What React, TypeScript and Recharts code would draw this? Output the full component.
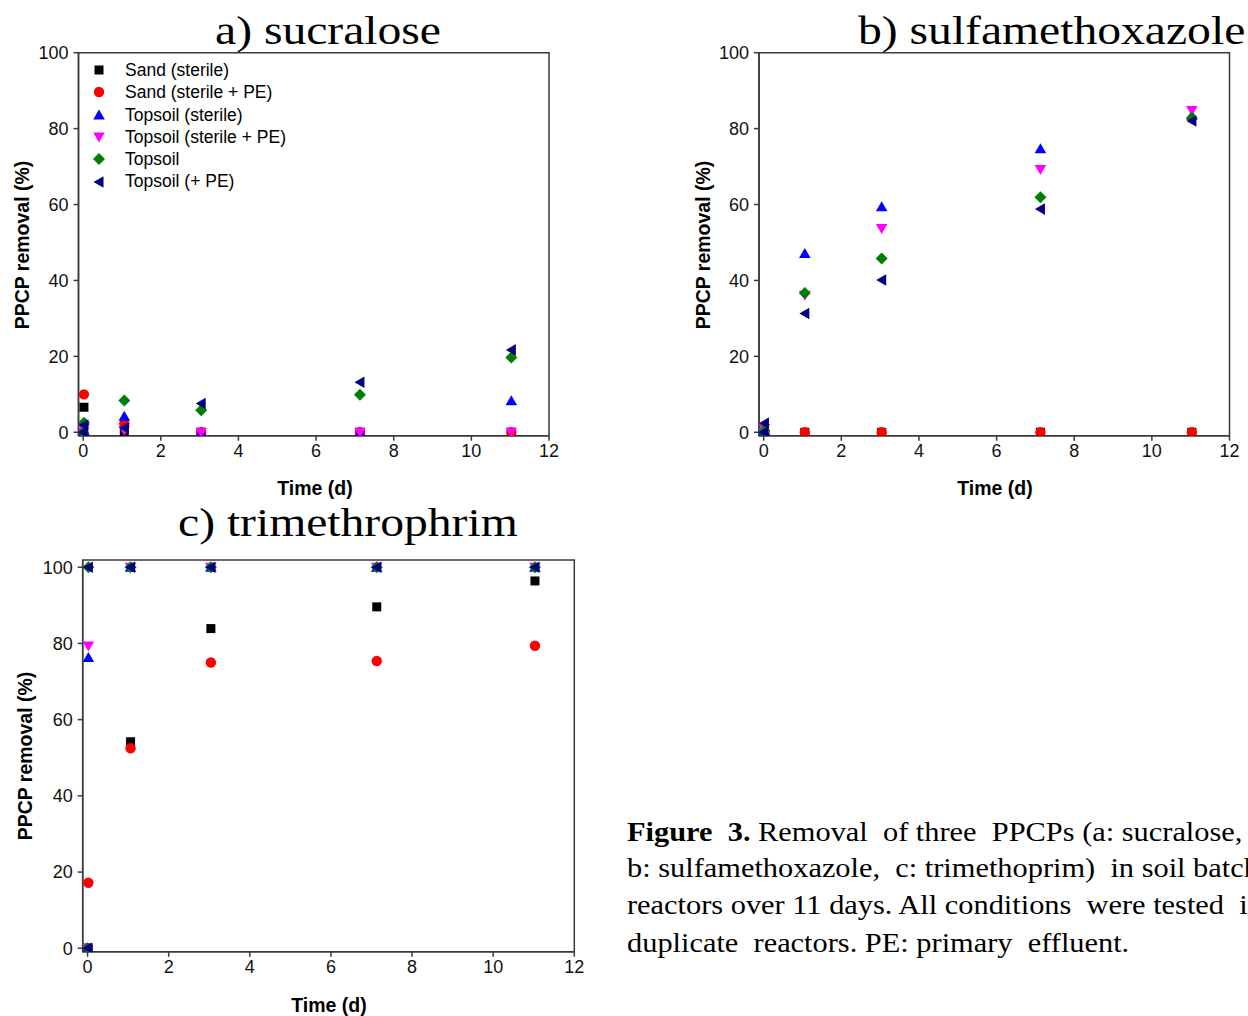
import React from 'react';
import { ScatterChart, Scatter, XAxis, YAxis, ReferenceArea, Legend } from 'recharts';

// sampling times (d); second point is the sample taken right after dosing
const DAYS = [0, 0.02, 1.06, 3.04, 7.13, 11.03];
const X_TICKS = [0, 2, 4, 6, 8, 10, 12];
const Y_TICKS = [0, 20, 40, 60, 80, 100];

const SERIES_NAMES = [
  'Sand (sterile)',
  'Sand (sterile + PE)',
  'Topsoil (sterile)',
  'Topsoil (sterile + PE)',
  'Topsoil',
  'Topsoil (+ PE)',
];
const SERIES_COLORS = ['#000000', '#ff0000', '#0000ff', '#ff00ff', '#008000', '#000080'];
const SERIES_SHAPES = ['square', 'circle', 'up', 'down', 'diamond', 'left'];

// a) sucralose
const SUC_SAND = [0, 6.6, 0, 0, 0, 0];
const SUC_SAND_PE = [0, 10, 2.3, 0, 0, 0];
const SUC_TOP_STER = [0, 0.5, 4.2, 0, 0, 8.3];
const SUC_TOP_STER_PE = [0, 1, 0.5, 0, 0, 0];
const SUC_TOP = [0, 2.5, 8.4, 5.8, 9.9, 19.7];
const SUC_TOP_PE = [0, 1.9, 1.2, 7.6, 13.2, 21.7];

// b) sulfamethoxazole
const SMX_SAND = [0, 0, 0, 0, 0, 0];
const SMX_SAND_PE = [0, 0, 0, 0, 0, 0];
const SMX_TOP_STER = [0, 0.5, 47.1, 59.4, 74.7, 83.5];
const SMX_TOP_STER_PE = [0, 1, 36.1, 53.7, 69.2, 84.8];
const SMX_TOP = [0, 0.5, 36.7, 45.8, 61.9, 82.8];
const SMX_TOP_PE = [0, 2.4, 31.3, 40.1, 58.8, 82];

// c) trimethoprim
const TMP_SAND = [0, 0, 54.2, 83.9, 89.6, 96.4];
const TMP_SAND_PE = [0, 17.2, 52.5, 75, 75.4, 79.4];
const TMP_TOP_STER = [0, 76.3, 100, 100, 100, 100];
const TMP_TOP_STER_PE = [0, 79.3, 100, 100, 100, 100];
const TMP_TOP = [0, 100, 100, 100, 100, 100];
const TMP_TOP_PE = [0, 100, 100, 100, 100, 100];

const SANS = '"Liberation Sans", Arial, sans-serif';
const SERIF = '"Liberation Serif", "Times New Roman", serif';
const AXIS = '#3a3a3a';

function drawMarker(kind: string, color: string, cx: number, cy: number) {
  switch (kind) {
    case 'square':
      return <rect x={cx - 4.5} y={cy - 4.5} width={9} height={9} fill={color} />;
    case 'circle':
      return <circle cx={cx} cy={cy} r={5.2} fill={color} />;
    case 'up':
      return <polygon points={`${cx},${cy - 5.5} ${cx + 5.8},${cy + 4.5} ${cx - 5.8},${cy + 4.5}`} fill={color} />;
    case 'down':
      return <polygon points={`${cx},${cy + 5.5} ${cx + 5.8},${cy - 4.5} ${cx - 5.8},${cy - 4.5}`} fill={color} />;
    case 'diamond':
      return <polygon points={`${cx},${cy - 6} ${cx + 6},${cy} ${cx},${cy + 6} ${cx - 6},${cy}`} fill={color} />;
    default:
      return <polygon points={`${cx - 5.5},${cy} ${cx + 4.5},${cy - 5.8} ${cx + 4.5},${cy + 5.8}`} fill={color} />;
  }
}

const shapeFor = (kind: string, color: string) => (props: any) => (
  <g>{drawMarker(kind, color, props.cx, props.cy)}</g>
);

const LegendBox = () => (
  <div style={{ fontFamily: SANS, fontSize: 17.5, color: '#000', lineHeight: '22.3px' }}>
    {SERIES_NAMES.map((name, i) => (
      <div key={name} style={{ display: 'flex', alignItems: 'center', whiteSpace: 'nowrap' }}>
        <svg width={16} height={16} style={{ marginRight: 18 }}>
          {drawMarker(SERIES_SHAPES[i], SERIES_COLORS[i], 8, 8)}
        </svg>
        <span>{name}</span>
      </div>
    ))}
  </div>
);

interface PanelProps {
  left: number;
  top: number;
  width: number;
  height: number;
  margin: { top: number; right: number; bottom: number; left: number };
  yMax: number;
  values: number[][];
  showLegend?: boolean;
}

const Panel: React.FC<PanelProps> = ({ left, top, width, height, margin, yMax, values, showLegend }) => {
  const xMin = -0.12;
  const yMin = -0.9;
  return (
    <div style={{ position: 'absolute', left, top }}>
      <ScatterChart width={width} height={height} margin={margin}>
        <XAxis
          type="number"
          dataKey="x"
          domain={[xMin, 12]}
          ticks={X_TICKS}
          allowDataOverflow
          height={30}
          stroke={AXIS}
          strokeWidth={1.5}
          tickSize={5}
          tickMargin={4}
          tick={{ fill: '#111', fontSize: 18, fontFamily: SANS }}
        />
        <YAxis
          type="number"
          dataKey="y"
          domain={[yMin, yMax]}
          ticks={Y_TICKS}
          allowDataOverflow
          width={65}
          stroke={AXIS}
          strokeWidth={1.5}
          tickSize={5}
          tickMargin={5}
          tick={{ fill: '#111', fontSize: 18, fontFamily: SANS }}
        />
        <ReferenceArea x1={xMin} x2={12} y1={yMin} y2={yMax} fill="none" stroke={AXIS} strokeWidth={1.5} ifOverflow="visible" />
        {values.map((vals, i) => (
          <Scatter
            key={SERIES_NAMES[i]}
            name={SERIES_NAMES[i]}
            data={DAYS.map((d, j) => ({ x: d, y: vals[j] }))}
            fill={SERIES_COLORS[i]}
            shape={shapeFor(SERIES_SHAPES[i], SERIES_COLORS[i])}
            isAnimationActive={false}
          />
        ))}
        {showLegend && (
          <Legend
            layout="vertical"
            align="center"
            verticalAlign="middle"
            content={() => <LegendBox />}
            wrapperStyle={{ position: 'absolute', left: 91, top: 59, width: 'auto' }}
          />
        )}
      </ScatterChart>
    </div>
  );
};

const Txt: React.FC<{ x: number; y: number; style?: React.CSSProperties; children: React.ReactNode }> = ({ x, y, style, children }) => (
  <div style={{ position: 'absolute', left: x, top: y, whiteSpace: 'pre', ...style }}>{children}</div>
);

const YLabel: React.FC<{ cx: number; cy: number }> = ({ cx, cy }) => (
  <div
    style={{
      position: 'absolute', left: cx, top: cy, transform: 'translate(-50%, -50%) rotate(-90deg)',
      fontFamily: SANS, fontWeight: 'bold', fontSize: 19.5, whiteSpace: 'nowrap', color: '#000',
    }}
  >
    PPCP removal (%)
  </div>
);

const XLabel: React.FC<{ cx: number; cy: number }> = ({ cx, cy }) => (
  <div
    style={{
      position: 'absolute', left: cx, top: cy, transform: 'translate(-50%, -50%)',
      fontFamily: SANS, fontWeight: 'bold', fontSize: 19.5, whiteSpace: 'nowrap', color: '#000',
    }}
  >
    Time (d)
  </div>
);

const titleStyle: React.CSSProperties = {
  fontFamily: SERIF, fontSize: 40, lineHeight: '40px', color: '#000', transformOrigin: 'left top', transform: 'scaleX(1.19)',
};
const capStyle: React.CSSProperties = {
  fontFamily: SERIF, fontSize: 28, lineHeight: '28px', color: '#000', transformOrigin: 'left top', transform: 'scaleX(1.085)',
};

export default function App() {
  return (
    <div style={{ position: 'fixed', left: 0, top: 0, width: 1248, height: 1016, overflow: 'hidden', background: '#fff' }}>
      <Panel
        left={0}
        top={0}
        width={580}
        height={510}
        margin={{ top: 52.7, right: 31, bottom: 44.3, left: 13.5 }}
        yMax={100}
        values={[SUC_SAND, SUC_SAND_PE, SUC_TOP_STER, SUC_TOP_STER_PE, SUC_TOP, SUC_TOP_PE]}
        showLegend
      />
      <Panel
        left={680}
        top={0}
        width={568}
        height={510}
        margin={{ top: 52.7, right: 18.5, bottom: 44.3, left: 14 }}
        yMax={100}
        values={[SMX_SAND, SMX_SAND_PE, SMX_TOP_STER, SMX_TOP_STER_PE, SMX_TOP, SMX_TOP_PE]}
      />
      <Panel
        left={0}
        top={510}
        width={600}
        height={506}
        margin={{ top: 50, right: 25.7, bottom: 34.3, left: 17.7 }}
        yMax={101.9}
        values={[TMP_SAND, TMP_SAND_PE, TMP_TOP_STER, TMP_TOP_STER_PE, TMP_TOP, TMP_TOP_PE]}
      />

      <Txt x={215} y={11} style={titleStyle}>a) sucralose</Txt>
      <Txt x={858} y={11} style={titleStyle}>b) sulfamethoxazole</Txt>
      <Txt x={178} y={503} style={titleStyle}>c) trimethrophrim</Txt>

      <YLabel cx={22} cy={245} />
      <YLabel cx={703} cy={245} />
      <YLabel cx={25} cy={756} />
      <XLabel cx={315} cy={488} />
      <XLabel cx={995} cy={488} />
      <XLabel cx={329} cy={1005} />

      <Txt x={627} y={818} style={capStyle}><b>Figure  3.</b> Removal  of three  PPCPs (a: sucralose,</Txt>
      <Txt x={627} y={854} style={capStyle}>b: sulfamethoxazole,  c: trimethoprim)  in soil batch</Txt>
      <Txt x={627} y={891} style={capStyle}>reactors over 11 days. All conditions  were tested  in</Txt>
      <Txt x={627} y={929} style={capStyle}>duplicate  reactors. PE: primary  effluent.</Txt>
    </div>
  );
}
